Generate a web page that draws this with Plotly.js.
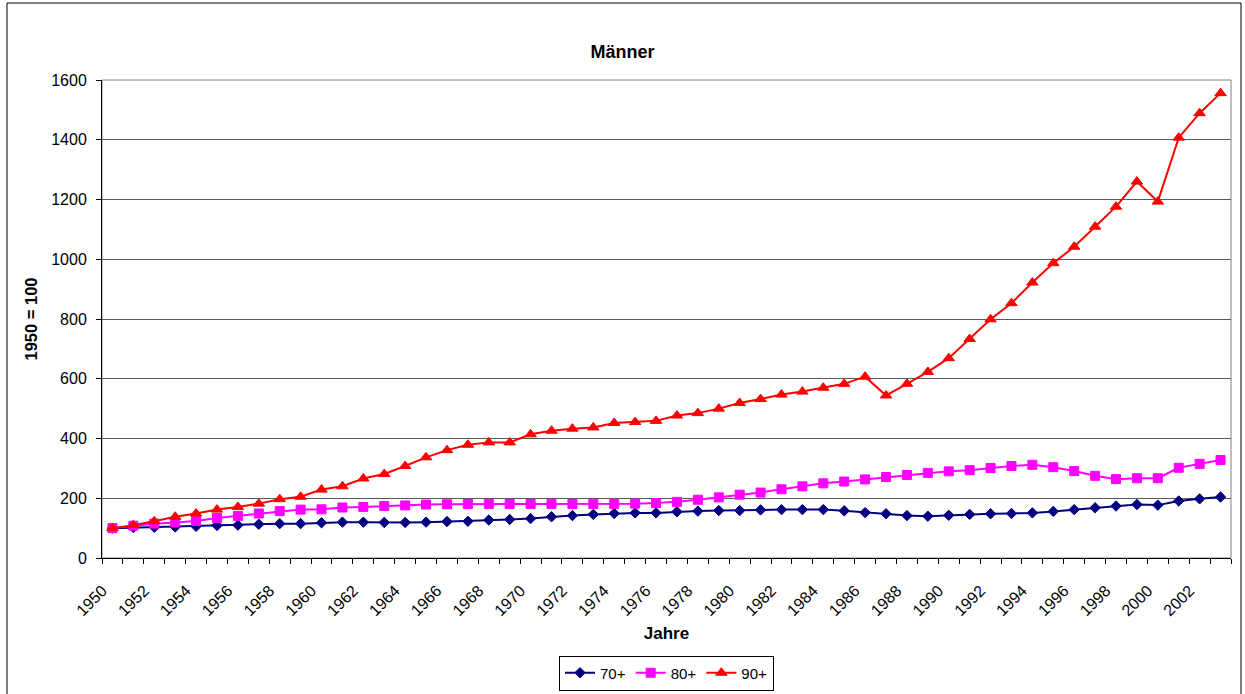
<!DOCTYPE html>
<html>
<head>
<meta charset="utf-8">
<script src="https://cdn.plot.ly/plotly-3.0.1.min.js"></script>
<style>
html,body{margin:0;padding:0;background:#fff;}
#chart{width:1245px;height:694px;}
</style>
</head>
<body>
<div id="chart"></div>
<script>
const years = [1950,1951,1952,1953,1954,1955,1956,1957,1958,1959,
  1960,1961,1962,1963,1964,1965,1966,1967,1968,1969,
  1970,1971,1972,1973,1974,1975,1976,1977,1978,1979,
  1980,1981,1982,1983,1984,1985,1986,1987,1988,1989,
  1990,1991,1992,1993,1994,1995,1996,1997,1998,1999,
  2000,2001,2002,2003];

const s70 = [100,102,103,104,106,109,110,113,115,115,
  118,120,120,119,119,120,122,123,127,129,
  132,138,142,146,149,151,151,155,157,159,
  159,161,162,162,162,158,152,148,142,140,
  143,146,148,149,151,156,162,168,174,179,
  177,191,198,204];

const s80 = [100,108,115,119,124,134,141,149,157,162,
  163,169,171,174,176,179,180,181,181,181,
  181,181,181,181,181,182,184,188,195,203,
  212,219,230,240,250,256,263,271,278,285,
  290,294,301,308,312,304,291,275,264,267,
  267,302,315,328];

const s90 = [100,110,123,138,149,162,171,182,197,205,
  229,240,266,281,308,337,361,379,387,387,
  414,426,433,437,452,455,459,477,485,500,
  519,532,547,557,570,583,607,544,583,623,
  669,733,799,853,922,987,1042,1109,1176,1260,
  1193,1407,1489,1556];

const tickYears = [1950,1952,1954,1956,1958,1960,1962,1964,1966,1968,1970,1972,1974,1976,
  1978,1980,1982,1984,1986,1988,1990,1992,1994,1996,1998,2000,2002];
const tickLabels = tickYears.map(String);

const seriesNames = ['70+','80+','90+'];

const FONT = '"Liberation Sans", Arial, sans-serif';

const traces = [
  {x: years, y: s70, name: seriesNames[0], type: 'scatter', mode: 'lines+markers',
   line: {color: '#000080', width: 2},
   marker: {symbol: 'diamond', size: 8, color: '#000080', line: {color: '#000080', width: 1}}},
  {x: years, y: s80, name: seriesNames[1], type: 'scatter', mode: 'lines+markers',
   line: {color: '#FF00FF', width: 2},
   marker: {symbol: 'square', size: 9, color: '#FF00FF', line: {color: '#FF00FF', width: 1}}},
  {x: years, y: s90, name: seriesNames[2], type: 'scatter', mode: 'lines+markers',
   line: {color: '#FF0000', width: 2},
   marker: {symbol: 'triangle-up', size: 10, color: '#FF0000', line: {color: '#FF0000', width: 1}}}
];

// plot area in pixels: x 102..1231, y 80..558
const W = 1245, H = 694;
const L = 102, R = 1231, T = 80, B = 558;
const px = v => (v - L) / (R - L);
const py = v => (B - v) / (B - T);

const layout = {
  width: W, height: H,
  margin: {l: L, r: W - R, t: T, b: H - B, pad: 0, autoexpand: false},
  paper_bgcolor: '#ffffff', plot_bgcolor: '#ffffff',
  font: {family: FONT, size: 16, color: '#000'},
  title: {text: '<b>Männer</b>', font: {family: FONT, size: 18, color: '#000'},
    x: 0.5, xref: 'container', y: 1 - 52/H, yref: 'container', yanchor: 'middle', xanchor: 'center'},
  showlegend: true,
  legend: {orientation: 'h', x: 0.5, xanchor: 'center', xref: 'paper',
    y: 1 - 673/H, yanchor: 'middle', yref: 'container',
    bordercolor: '#000', borderwidth: 1, bgcolor: '#fff',
    font: {family: FONT, size: 15, color: '#000'},
    itemwidth: 30, tracegroupgap: 0},
  xaxis: {
    type: 'linear', range: [1949.5, 2003.5], autorange: false, automargin: false,
    tickmode: 'array', tickvals: tickYears, ticktext: tickLabels,
    tickangle: -45, ticks: '', showgrid: false, zeroline: false,
    showline: true, linecolor: '#000', linewidth: 1,
    tickfont: {family: FONT, size: 16, color: '#000'},
    ticklabelstandoff: 16, ticklabelshift: -10,
    minor: {tickmode: 'linear', tick0: 1949.5, dtick: 1, ticks: 'outside', ticklen: 5,
      tickcolor: '#000', tickwidth: 1, showgrid: false},
    title: {text: '<b>Jahre</b>', font: {family: FONT, size: 17, color: '#000'}, standoff: 8}
  },
  yaxis: {
    range: [0, 1600], autorange: false, automargin: false, tickmode: 'linear', tick0: 0, dtick: 200,
    ticks: 'outside', ticklen: 5, tickcolor: '#000', tickwidth: 1,
    showline: true, linecolor: '#000', linewidth: 1,
    showgrid: true, gridcolor: '#5a5a5a', gridwidth: 1, zeroline: false,
    tickfont: {family: FONT, size: 16, color: '#000'},
    ticklabelstandoff: 6,
    title: {text: '<b>1950 = 100</b>', font: {family: FONT, size: 16.5, color: '#000'}, standoff: 9}
  },
  shapes: [
    {type: 'rect', xref: 'paper', yref: 'paper', x0: 0, x1: 1, y0: 0, y1: 1,
     line: {color: '#808080', width: 1}, fillcolor: 'rgba(0,0,0,0)', layer: 'below'},
    {type: 'rect', xref: 'paper', yref: 'paper', x0: px(7), x1: px(1241), y0: py(710), y1: py(3),
     line: {color: '#000', width: 1}, fillcolor: 'rgba(0,0,0,0)', layer: 'above'}
  ],
  hovermode: false
};

Plotly.newPlot('chart', traces, layout, {displayModeBar: false, staticPlot: true});
</script>
</body>
</html>
